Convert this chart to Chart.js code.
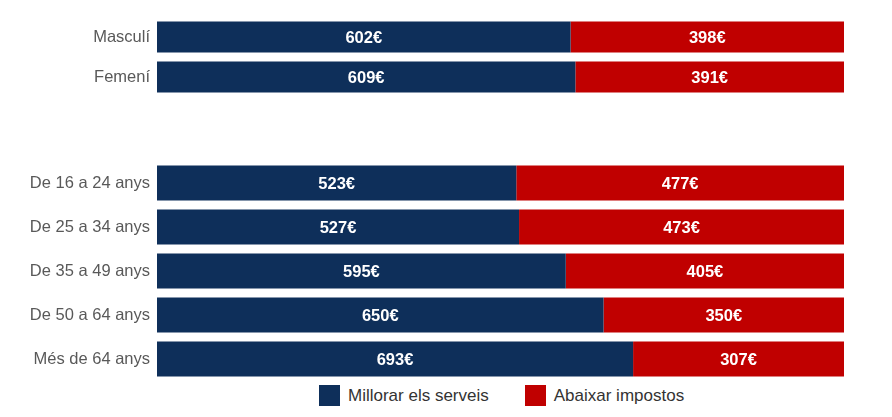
<!DOCTYPE html>
<html>
<head>
<meta charset="utf-8">
<script src="https://cdn.jsdelivr.net/npm/chart.js@4/dist/chart.umd.min.js"></script>
<style>
  body { margin: 0; background: #fff; font-family: "Liberation Sans", Arial, sans-serif; }
  .wrap { position: relative; width: 892px; height: 417px; }
  .box1 { position: absolute; left: 0; top: 17px; width: 892px; height: 80px; }
  .box2 { position: absolute; left: 0; top: 161px; width: 892px; height: 220px; }
  .legend { position: absolute; top: 385px; left: 319px; display: flex; font-size: 17px; color: #333; line-height: 21px; }
  .legend span.item { display: flex; align-items: center; margin-right: 36px; }
  .legend span.box { width: 21px; height: 21px; margin-right: 8px; display: inline-block; }
</style>
</head>
<body>
<div class="wrap">
  <div class="box1"><canvas id="sexChart"></canvas></div>
  <div class="box2"><canvas id="ageChart"></canvas></div>
  <div class="legend" id="legend"></div>
</div>
<script>
const sexLabels = ['Masculí', 'Femení'];
const sexServeis = [602, 609];
const sexImpostos = [398, 391];

const ageLabels = ['De 16 a 24 anys', 'De 25 a 34 anys', 'De 35 a 49 anys', 'De 50 a 64 anys', 'Més de 64 anys'];
const ageServeis = [523, 527, 595, 650, 693];
const ageImpostos = [477, 473, 405, 350, 307];

const seriesNames = ['Millorar els serveis', 'Abaixar impostos'];
const navy = '#0e2f5a';
const red = '#c00000';

// etiquetes de valor al centre de cada barra
const valueLabels = {
    id: 'valueLabels',
    afterDatasetsDraw(chart) {
        const ctx = chart.ctx;
        ctx.save();
        ctx.font = 'bold 16.5px "Liberation Sans", Arial, sans-serif';
        ctx.fillStyle = '#fff';
        ctx.textAlign = 'center';
        ctx.textBaseline = 'middle';
        chart.data.datasets.forEach((ds, i) => {
            chart.getDatasetMeta(i).data.forEach((bar, j) => {
                const x = (bar.x + bar.base) / 2;
                ctx.fillText(ds.data[j] + '€', x, bar.y + 1);
            });
        });
        ctx.restore();
    }
};

function makeChart(id, labels, serveis, impostos, barPct) {
    return new Chart(document.getElementById(id), {
        type: 'bar',
        data: {
            labels: labels,
            datasets: [
                { label: seriesNames[0], data: serveis, backgroundColor: navy, barPercentage: barPct, categoryPercentage: 1 },
                { label: seriesNames[1], data: impostos, backgroundColor: red, barPercentage: barPct, categoryPercentage: 1 }
            ]
        },
        options: {
            indexAxis: 'y',
            responsive: true,
            maintainAspectRatio: false,
            animation: false,
            layout: { autoPadding: false, padding: { left: 0, right: 48, top: 0, bottom: 0 } },
            plugins: { legend: { display: false }, tooltip: { enabled: false } },
            scales: {
                x: { stacked: true, min: 0, max: 1000, display: false },
                y: {
                    stacked: true,
                    grid: { display: false, drawTicks: false },
                    border: { display: false },
                    ticks: { color: '#595959', font: { size: 16.5, family: '"Liberation Sans", Arial, sans-serif' }, padding: 7 },
                    afterFit(scale) { scale.width = 157; scale.paddingTop = 0; scale.paddingBottom = 0; }
                }
            }
        },
        plugins: [valueLabels]
    });
}

makeChart('sexChart', sexLabels, sexServeis, sexImpostos, 0.77);
makeChart('ageChart', ageLabels, ageServeis, ageImpostos, 0.8);

const legend = document.getElementById('legend');
[navy, red].forEach((c, i) => {
    const item = document.createElement('span');
    item.className = 'item';
    item.innerHTML = '<span class="box" style="background:' + c + '"></span>' + seriesNames[i];
    legend.appendChild(item);
});
</script>
</body>
</html>
